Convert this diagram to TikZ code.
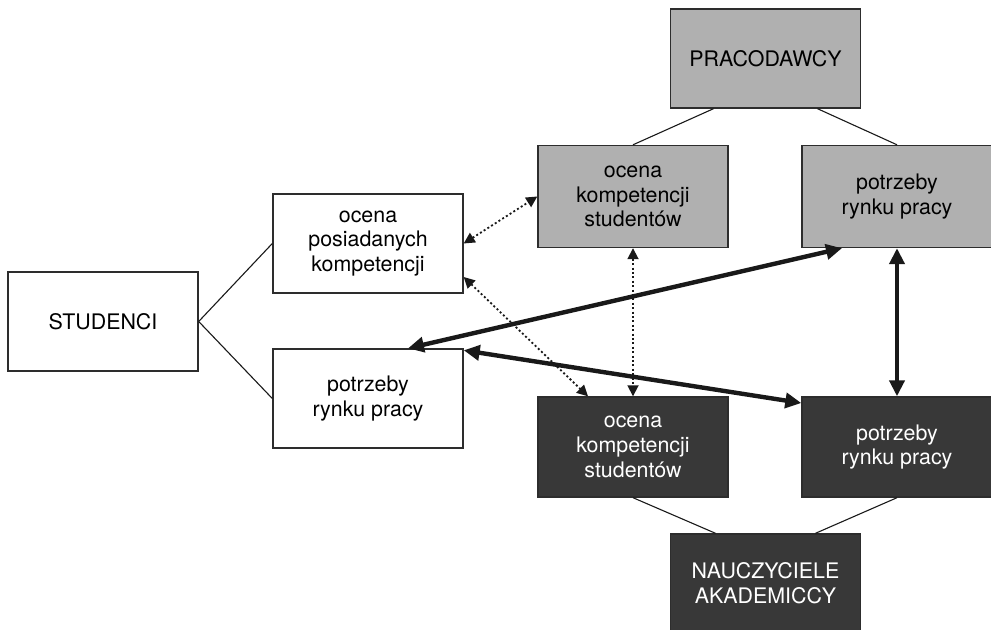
\documentclass[tikz,border=0pt]{standalone}
\usepackage{fontspec}
\setmainfont{TeX Gyre Heros}
\usetikzlibrary{arrows.meta}
\definecolor{empgray}{RGB}{176,176,176}
\definecolor{teachdark}{RGB}{56,56,56}
\definecolor{boxline}{RGB}{45,45,45}

\begin{document}
\begin{tikzpicture}[
  x=0.5pt,y=-0.5pt,
  box/.style={rectangle,draw=boxline,line width=0.7pt,minimum width=95pt,minimum height=49.5pt,inner sep=0pt,align=center,font=\fontsize{10.7}{12.4}\selectfont},
  emp/.style={box,fill=empgray,minimum height=51pt},
  teach/.style={box,fill=teachdark,text=white,minimum height=50pt},
  thinlink/.style={line width=0.55pt,draw=black!90},
  dotlink/.style={{Triangle[length=5.5pt,width=5.5pt]}-{Triangle[length=5.5pt,width=5.5pt]},line width=0.9pt,dash pattern=on 1pt off 1.2pt,draw=black!90},
  boldlink/.style={{Triangle[length=8pt,width=7.5pt]}-{Triangle[length=8pt,width=7.5pt]},line width=2.2pt,draw=black!90},
]
\useasboundingbox (0,0) rectangle (991,630);

% Students
\node[box] (studenci) at (103,321.5) {STUDENCI};
\node[box] (s_ocena) at (368,243.5) {ocena\\posiadanych\\kompetencji};
\node[box] (s_potrzeby) at (368,398.5) {potrzeby\\rynku pracy};

% Employers
\node[emp,minimum height=49.5pt] (pracodawcy) at (765.5,58.5) {PRACODAWCY};
\node[emp] (p_ocena) at (633,196.5) {ocena\\kompetencji\\studentów};
\node[emp] (p_potrzeby) at (897,196.5) {potrzeby\\rynku pracy};

% Academic teachers
\node[teach] (n_ocena) at (633,447) {ocena\\kompetencji\\studentów};
\node[teach] (n_potrzeby) at (897,447) {potrzeby\\rynku pracy};
\node[teach,minimum height=49.5pt] (nauczyciele) at (765.5,583.5) {NAUCZYCIELE\\AKADEMICCY};

% Tree lines
\draw[thinlink] (studenci.east) -- (s_ocena.west);
\draw[thinlink] (studenci.east) -- (s_potrzeby.west);
\draw[thinlink] ([xshift=-26pt]pracodawcy.south) -- (p_ocena.north);
\draw[thinlink] ([xshift=26pt]pracodawcy.south) -- (p_potrzeby.north);
\draw[thinlink] (n_ocena.south) -- ([xshift=-25pt]nauczyciele.north);
\draw[thinlink] (n_potrzeby.south) -- ([xshift=25pt]nauczyciele.north);

% Dotted links
\draw[dotlink] (s_ocena.east) -- (p_ocena.west);
\draw[dotlink] ([yshift=-16.75pt]s_ocena.east) -- ([xshift=-22.5pt]n_ocena.north);
\draw[dotlink] (p_ocena.south) -- (n_ocena.north);

% Bold links
\draw[boldlink] ([xshift=20pt]s_potrzeby.north) -- ([xshift=-27.5pt]p_potrzeby.south);
\draw[boldlink] ([yshift=-1pt]s_potrzeby.north east) -- ([yshift=22pt]n_potrzeby.west);
\draw[boldlink] (p_potrzeby.south) -- (n_potrzeby.north);

\end{tikzpicture}
\end{document}
